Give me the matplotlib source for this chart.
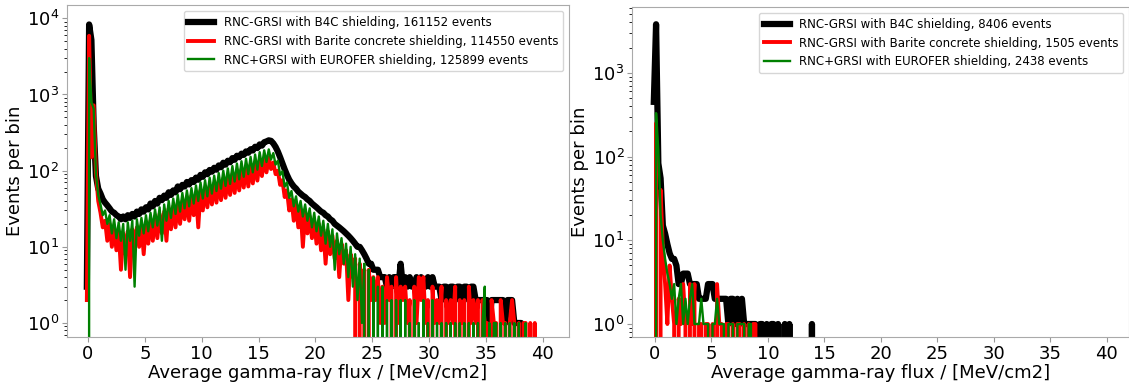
import numpy as np
import matplotlib.pyplot as plt

# bin centres, 0.2 MeV/cm2 wide, first one just below zero
step = 0.2

# left panel: events per bin
b4c_left = [
    3, 8300, 5200, 400, 85, 58, 50, 42, 38, 35,
    32, 29, 28, 26, 25, 23, 25, 23, 26, 24,
    27, 25, 29, 27, 31, 29, 33, 31, 37, 34,
    40, 37, 44, 41, 47, 44, 52, 48, 55, 52,
    62, 57, 65, 62, 71, 66, 75, 71, 81, 76,
    88, 83, 95, 90, 102, 97, 109, 103, 117, 111,
    127, 120, 135, 129, 146, 139, 157, 150, 167, 161,
    179, 172, 191, 184, 206, 198, 221, 213, 236, 242,
    250, 246, 228, 205, 178, 150, 125, 104, 88, 76,
    68, 62, 58, 53, 50, 47, 45, 42, 40, 37,
    35, 33, 31, 29, 28, 26, 25, 23, 22, 20,
    19, 18, 17, 16, 15, 14, 13, 12, 11, 10,
    10, 9, 8, 7, 6, 6, 5, 5, 5, 4,
    4, 4, 3, 4, 3, 4, 4, 3, 6, 3,
    4, 3, 4, 3, 3, 4, 3, 4, 3, 3,
    4, 3, 4, 3, 3, 3, 2, 3, 3, 2,
    3, 3, 2, 3, 3, 2, 3, 3, 2, 3,
    3, 2, 2, 2, 2, 2, 2, 1, 2, 2,
    2, 2, 2, 2, 1, 2, 2, 2, 1, 1,
    1, 1, 0, 0, 0, 0, 0, 0, 0, 0,
    0,
]
barite_left = [
    2, 5900, 150, 720, 95, 40, 28, 18, 22, 12,
    20, 10, 18, 9, 16, 5, 15, 8, 16, 4,
    17, 9, 18, 10, 19, 8, 20, 11, 22, 12,
    25, 13, 27, 15, 29, 12, 32, 17, 34, 18,
    38, 20, 40, 23, 44, 22, 47, 26, 50, 18,
    55, 30, 59, 33, 63, 36, 68, 38, 73, 41,
    79, 44, 84, 48, 90, 51, 97, 55, 104, 60,
    112, 62, 120, 68, 128, 74, 137, 85, 145, 95,
    148, 105, 128, 90, 100, 65, 75, 45, 55, 30,
    42, 22, 36, 18, 31, 10, 28, 15, 25, 13,
    22, 11, 20, 9, 17, 6, 16, 8, 14, 7,
    12, 4, 11, 6, 9, 2, 8, 4, 7, 0,
    6, 3, 5, 0, 5, 2, 4, 2, 4, 1,
    3, 1, 4, 2, 3, 0, 4, 1, 3, 2,
    3, 1, 2, 0, 3, 1, 4, 2, 4, 1,
    2, 0, 3, 1, 2, 1, 3, 0, 2, 1,
    2, 1, 3, 0, 2, 1, 2, 0, 3, 1,
    2, 1, 2, 0, 2, 1, 1, 0, 2, 1,
    1, 0, 2, 1, 1, 0, 1, 2, 1, 0,
    1, 0, 1, 1, 0, 1, 0, 1, 0, 0,
    0,
]
eurofer_left = [
    0, 3000, 800, 650, 90, 48, 36, 26, 30, 20,
    26, 15, 23, 13, 21, 12, 20, 5, 21, 12,
    22, 3, 23, 14, 24, 15, 26, 16, 28, 18,
    31, 19, 33, 12, 36, 22, 40, 24, 43, 27,
    48, 29, 51, 32, 55, 34, 59, 37, 64, 40,
    70, 43, 75, 46, 81, 50, 86, 54, 93, 58,
    100, 63, 107, 67, 115, 72, 124, 77, 133, 83,
    143, 90, 152, 95, 163, 103, 175, 115, 185, 130,
    190, 140, 170, 120, 135, 88, 98, 62, 70, 44,
    54, 34, 46, 29, 40, 25, 36, 22, 32, 18,
    28, 16, 25, 14, 22, 11, 20, 10, 17, 5,
    15, 8, 13, 6, 11, 4, 10, 3, 8, 2,
    7, 1, 6, 0, 5, 0, 4, 0, 3, 0,
    3, 0, 2, 0, 2, 0, 2, 0, 2, 0,
    2, 0, 1, 0, 2, 0, 1, 0, 2, 0,
    1, 0, 2, 0, 1, 0, 1, 0, 1, 0,
    1, 0, 1, 0, 1, 0, 1, 0, 1, 0,
    1, 0, 1, 0, 1, 3, 0, 1, 0, 1,
    1, 0, 1, 0, 1, 0, 1, 0, 1, 0,
    1, 0, 0, 1, 0, 0, 0, 0, 0, 0,
    0,
]

# right panel
b4c_right = [
    450, 3800, 83, 55, 15, 12, 9, 7, 6, 6,
    5, 3, 3, 4, 4, 4, 3, 3, 3, 3,
    2, 2, 2, 2, 3, 3, 3, 2, 2, 2,
    2, 2, 2, 1, 2, 2, 1, 2, 1, 2,
    1, 1, 1, 1, 1, 1, 0, 1, 1, 0,
    1, 0, 1, 1, 0, 1, 0, 0, 1, 0,
    1, 0, 0, 0, 0, 0, 0, 0, 0, 0,
    1, 0,
]
barite_right = [
    0, 250, 0, 40, 8, 3, 1, 5, 2, 1,
    0, 2, 1, 3, 1, 0, 3, 1, 3, 0,
    1, 1, 0, 1, 1, 0, 1, 0, 3, 1,
    1, 0, 1, 1, 0, 1, 0, 1, 1, 0,
    1, 0, 1, 0, 1, 1, 0, 0, 0, 0,
]
eurofer_right = [
    0, 330, 120, 20, 10, 6, 4, 3, 2, 3,
    1, 2, 3, 1, 2, 1, 2, 3, 1, 1,
    1, 2, 1, 1, 1, 0, 1, 1, 2, 1,
    1, 1, 0, 1, 1, 1, 0, 1, 1, 1,
    1, 0, 1, 1, 0, 0, 0, 0, 0, 0,
]

labels_left = ['RNC-GRSI with B4C shielding, 161152 events',
               'RNC-GRSI with Barite concrete shielding, 114550 events',
               'RNC+GRSI with EUROFER shielding, 125899 events']
labels_right = ['RNC-GRSI with B4C shielding, 8406 events',
                'RNC-GRSI with Barite concrete shielding, 1505 events',
                'RNC+GRSI with EUROFER shielding, 2438 events']

colors = ['black', 'red', 'green']
widths = [4.5, 2.8, 1.7]


def centres(vals):
    return -0.1 + step * np.arange(len(vals))


fig = plt.figure(figsize=(11.29, 3.85), dpi=100)
ax1 = fig.add_axes([0.0593, 0.1247, 0.4446, 0.862])
ax2 = fig.add_axes([0.5598, 0.1247, 0.4405, 0.857])

panels = [
    (ax1, [b4c_left, barite_left, eurofer_left], labels_left, (0.655, 1.49e4), (-1.85, 42.3)),
    (ax2, [b4c_right, barite_right, eurofer_right], labels_right, (0.70, 6100), (-2.03, 42.0)),
]

for ax, series, labels, ylim, xlim in panels:
    for vals, lab, c, lw in zip(series, labels, colors, widths):
        ax.plot(centres(vals), vals, color=c, lw=lw, label=lab)
    ax.set_yscale('log')
    ax.set_ylim(*ylim)
    ax.set_xlim(*xlim)
    ax.set_xticks(np.arange(0, 45, 5))
    ax.set_xlabel('Average gamma-ray flux / [MeV/cm2]', fontsize=13, labelpad=1)
    ax.set_ylabel('Events per bin', fontsize=13, labelpad=2)
    ax.tick_params(labelsize=13, color='#999999', pad=2)
    for sp in ax.spines.values():
        sp.set_color('#aaaaaa')
    ax.legend(loc='upper right', fontsize=8.5, handlelength=2.2, framealpha=0.8)

fig.savefig('out.png', dpi=100)
